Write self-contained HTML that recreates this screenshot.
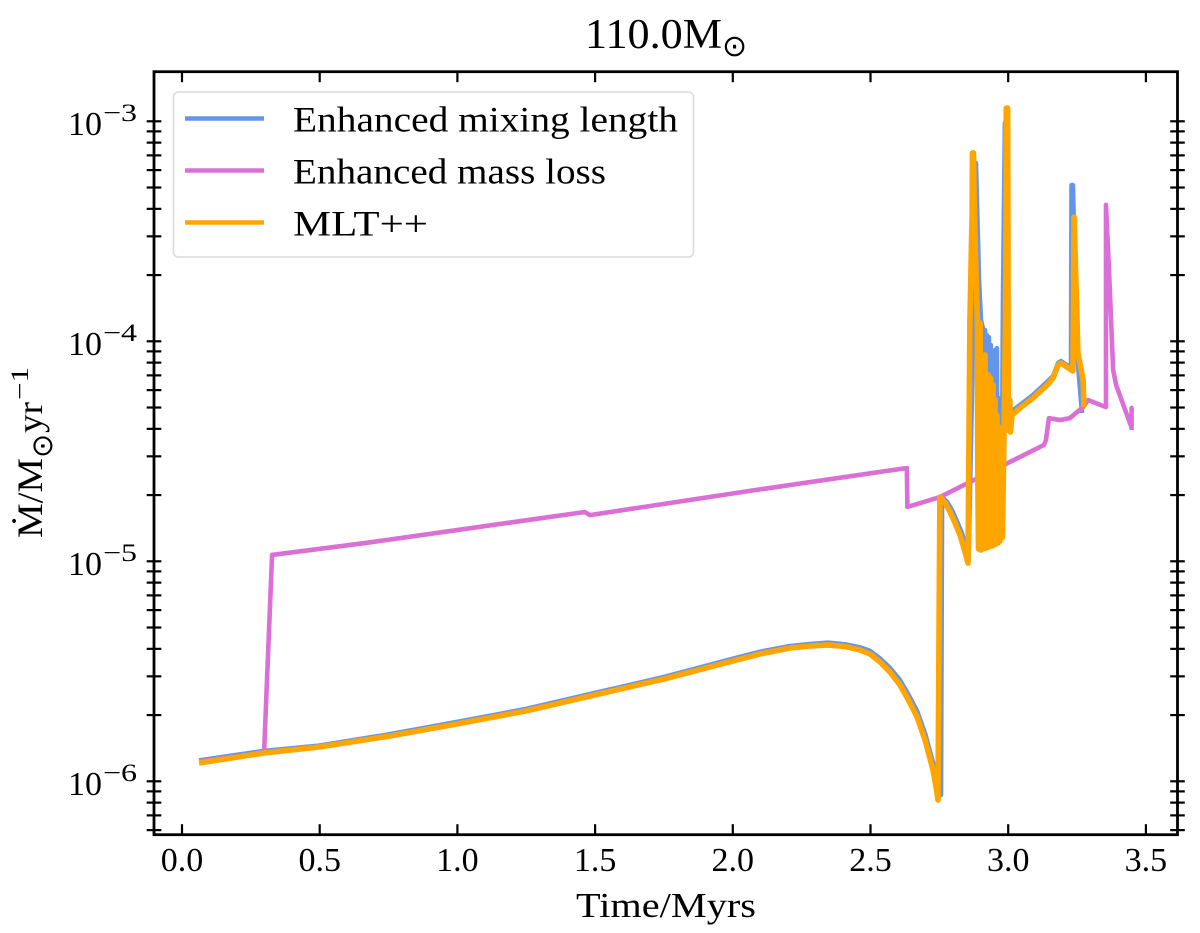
<!DOCTYPE html>
<html lang="en">
<head>
<meta charset="utf-8">
<title>110.0 solar mass mass-loss rate chart</title>
<style>
  html, body { margin: 0; padding: 0; background: #fff; }
  svg { display: block; }
  text { font-family: "Liberation Serif", "DejaVu Serif", serif; fill: #000; }
</style>
</head>
<body>
<svg id="chart" xmlns="http://www.w3.org/2000/svg" width="1200" height="933" viewBox="0 0 1200 933">
  <rect x="0" y="0" width="1200" height="933" fill="#fff"/>
  <g>
    <text x="585" y="48" font-size="42" textLength="137" lengthAdjust="spacingAndGlyphs">110.0M</text>
    <text x="722" y="56" font-size="30" style="font-family:'DejaVu Sans',sans-serif">⊙</text>
  </g>
  <g id="series-layer"></g>
  <g id="axes-layer"></g>
  <g>
    <text x="576" y="917" font-size="35" textLength="180" lengthAdjust="spacingAndGlyphs">Time/Myrs</text>
  </g>
  <g>
    <text transform="translate(42 538) rotate(-90)" font-size="36" textLength="80" lengthAdjust="spacingAndGlyphs">Ṁ/M</text>
    <text transform="translate(52 458) rotate(-90)" font-size="29" style="font-family:'DejaVu Sans',sans-serif">⊙</text>
    <text transform="translate(42 433) rotate(-90)" font-size="36" textLength="31" lengthAdjust="spacingAndGlyphs">yr</text>
    <text transform="translate(28 400) rotate(-90)" font-size="25" textLength="33" lengthAdjust="spacingAndGlyphs">−1</text>
  </g>
  <g>
    <rect x="173.5" y="92" width="520" height="165" rx="5" ry="5" fill="#fff" fill-opacity="0.8" stroke="#dcdcdc" stroke-width="1.6"/>
    <g>
      <line x1="185" x2="264" y1="118.5" y2="118.5" stroke="#6495ED" stroke-width="4.6"/>
      <text x="293" y="131.5" font-size="36" textLength="385" lengthAdjust="spacingAndGlyphs">Enhanced mixing length</text>
    </g>
    <g>
      <line x1="185" x2="264" y1="170.5" y2="170.5" stroke="#DA70D6" stroke-width="4.6"/>
      <text x="293" y="183.5" font-size="36" textLength="313" lengthAdjust="spacingAndGlyphs">Enhanced mass loss</text>
    </g>
    <g>
      <line x1="185" x2="264" y1="222.5" y2="222.5" stroke="#FFA500" stroke-width="4.6"/>
      <text x="293" y="235.5" font-size="36" textLength="135" lengthAdjust="spacingAndGlyphs">MLT++</text>
    </g>
  </g>
</svg>
<script>
// Axis labels and ticks
const xTicks = [0, 0.5, 1, 1.5, 2, 2.5, 3, 3.5];
const xTickLabels = ["0.0", "0.5", "1.0", "1.5", "2.0", "2.5", "3.0", "3.5"];
const yDecades = [-6, -5, -4, -3];
const yDecadeLabels = ["−6", "−5", "−4", "−3"];
const yMinorMultipliers = [2, 3, 4, 5, 6, 7, 8, 9];

// Enhanced mixing length: time (Myr) and log10(Mdot)
const mixingTime = [0.062,0.298,0.497,0.75,0.999,1.25,1.5,1.75,2.0,2.099,2.208,2.280,2.346,2.407,2.462,2.498,2.535,2.571,2.607,2.636,2.669,2.698,2.727,2.745,2.756,2.760,2.778,2.796,2.814,2.832,2.846,2.856,2.868,2.883,2.894,2.901,2.908,2.910,2.916,2.918,2.923,2.925,2.930,2.932,2.937,2.939,2.945,2.947,2.952,2.954,2.959,2.961,2.967,2.969,2.974,2.976,2.981,2.988,2.996,3.003,3.014,3.090,3.141,3.163,3.181,3.192,3.228,3.230,3.235,3.250,3.268];
const mixingLogMdot = [-5.905,-5.862,-5.838,-5.787,-5.730,-5.671,-5.598,-5.526,-5.443,-5.411,-5.385,-5.376,-5.370,-5.377,-5.391,-5.407,-5.442,-5.485,-5.540,-5.602,-5.680,-5.782,-5.915,-6.030,-6.062,-4.708,-4.730,-4.767,-4.818,-4.872,-4.931,-4.995,-4.266,-3.190,-3.721,-3.903,-3.940,-4.940,-3.949,-4.935,-3.972,-4.931,-3.981,-4.926,-4.017,-4.926,-4.049,-4.921,-4.040,-4.917,-4.031,-4.912,-4.258,-4.903,-4.390,-4.894,-3.812,-3.008,-3.008,-4.403,-4.317,-4.244,-4.185,-4.158,-4.099,-4.090,-4.121,-3.290,-3.290,-4.053,-4.326];

// Enhanced mass loss
const massLossTime = [0.062,0.298,0.327,0.664,0.999,1.463,1.481,2.062,2.632,2.634,2.752,3.130,3.137,3.148,3.188,3.224,3.272,3.290,3.355,3.355,3.366,3.381,3.392,3.442,3.448,3.448,3.448];
const massLossLogMdot = [-5.910,-5.871,-4.971,-4.917,-4.858,-4.776,-4.790,-4.680,-4.576,-4.753,-4.708,-4.471,-4.449,-4.349,-4.358,-4.349,-4.299,-4.267,-4.299,-3.380,-3.676,-4.130,-4.199,-4.372,-4.390,-4.303,-4.403];

// MLT++
const mltTime = [0.062,0.298,0.497,0.75,0.999,1.25,1.5,1.75,2.0,2.099,2.208,2.280,2.346,2.407,2.462,2.498,2.535,2.571,2.607,2.636,2.669,2.698,2.727,2.738,2.745,2.752,2.771,2.789,2.807,2.825,2.839,2.854,2.861,2.869,2.870,2.874,2.877,2.888,2.889,2.892,2.898,2.901,2.905,2.908,2.916,2.919,2.927,2.930,2.936,2.939,2.945,2.948,2.952,2.956,2.959,2.963,2.967,2.970,2.974,2.977,2.979,2.985,2.990,2.992,2.993,2.998,2.999,3.000,3.006,3.008,3.014,3.043,3.090,3.141,3.163,3.181,3.192,3.235,3.239,3.250,3.253,3.272,3.275];
const mltLogMdot = [-5.917,-5.871,-5.844,-5.795,-5.739,-5.680,-5.607,-5.535,-5.453,-5.421,-5.394,-5.385,-5.380,-5.387,-5.403,-5.421,-5.458,-5.503,-5.562,-5.626,-5.707,-5.812,-5.948,-6.025,-6.085,-4.708,-4.735,-4.776,-4.826,-4.880,-4.939,-5.008,-3.903,-3.417,-3.144,-3.144,-3.417,-3.903,-4.494,-4.944,-3.917,-4.949,-4.131,-4.944,-4.062,-4.940,-4.153,-4.935,-4.167,-4.931,-4.199,-4.926,-4.267,-4.921,-4.335,-4.917,-4.390,-4.908,-4.449,-4.894,-4.890,-4.403,-3.903,-3.417,-2.940,-2.940,-3.417,-4.403,-4.267,-4.412,-4.335,-4.303,-4.258,-4.199,-4.167,-4.108,-4.099,-4.135,-3.435,-3.903,-4.053,-4.176,-4.299];

const NS = "http://www.w3.org/2000/svg";
const plot = { left: 154, right: 1177.5, top: 71.7, bottom: 834.7 };
function xScale(t) { return 182 + 275.4 * t; }
function yScale(logValue) { return 121.3 + 220 * (-3 - logValue); }
function mk(tag, attrs, parent) {
  const el = document.createElementNS(NS, tag);
  for (const k in attrs) el.setAttribute(k, attrs[k]);
  parent.appendChild(el);
  return el;
}

const seriesLayer = document.getElementById("series-layer");
const axesLayer = document.getElementById("axes-layer");

function drawSeries(times, values, color, name, width) {
  const pts = times.map(function (t, i) {
    return xScale(t).toFixed(2) + "," + yScale(values[i]).toFixed(2);
  }).join(" ");
  const line = mk("polyline", { points: pts, fill: "none", stroke: color, "stroke-width": width, "stroke-linejoin": "round", "stroke-linecap": "butt" }, seriesLayer);
  
  
}
drawSeries(mixingTime, mixingLogMdot, "#6495ED", "series-enhanced-mixing-length", 4.6);
drawSeries(massLossTime, massLossLogMdot, "#DA70D6", "series-enhanced-mass-loss", 4.6);
drawSeries(mltTime, mltLogMdot, "#FFA500", "series-mlt-plus-plus", 5.6);

xTicks.forEach(function (t, i) {
  const x = xScale(t);
  const bottomTick = mk("line", { x1: x, x2: x, y1: plot.bottom, y2: plot.bottom - 10.5, stroke: "#000", "stroke-width": 2.2 }, axesLayer);
  
  
  const topTick = mk("line", { x1: x, x2: x, y1: plot.top, y2: plot.top + 10.5, stroke: "#000", "stroke-width": 2.2 }, axesLayer);
  
  
  const label = mk("text", { x: x, y: 871, "font-size": 34, "text-anchor": "middle" }, axesLayer);
  
  
  label.textContent = xTickLabels[i];
});

function drawYTick(logValue, name) {
  const y = yScale(logValue);
  if (y < plot.top || y > plot.bottom) return;
  [plot.left, plot.right].forEach(function (sx) {
    const tick = mk("line", { x1: sx - 7.3, x2: sx + 7.3, y1: y, y2: y, stroke: "#000", "stroke-width": 2.2 }, axesLayer);
    
    
  });
}
[-7].concat(yDecades).forEach(function (d) {
  yMinorMultipliers.forEach(function (m) {
    drawYTick(d + Math.log10(m), 'y-minor-tick');
  });
});
yDecades.forEach(function (d, i) {
  drawYTick(d, 'y-major-tick');
  const y = yScale(d);
  const base = mk("text", { x: 68, y: y + 13.5, "font-size": 34 }, axesLayer);
  
  
  base.textContent = "10";
  const exponent = mk("text", { x: 103, y: y - 0.5, "font-size": 25, textLength: 34, lengthAdjust: "spacingAndGlyphs" }, axesLayer);
  
  
  exponent.textContent = yDecadeLabels[i];
});

const frame = mk("rect", { x: plot.left, y: plot.top, width: plot.right - plot.left, height: plot.bottom - plot.top, fill: "none", stroke: "#000", "stroke-width": 2.8 }, axesLayer);


</script>
</body>
</html>
